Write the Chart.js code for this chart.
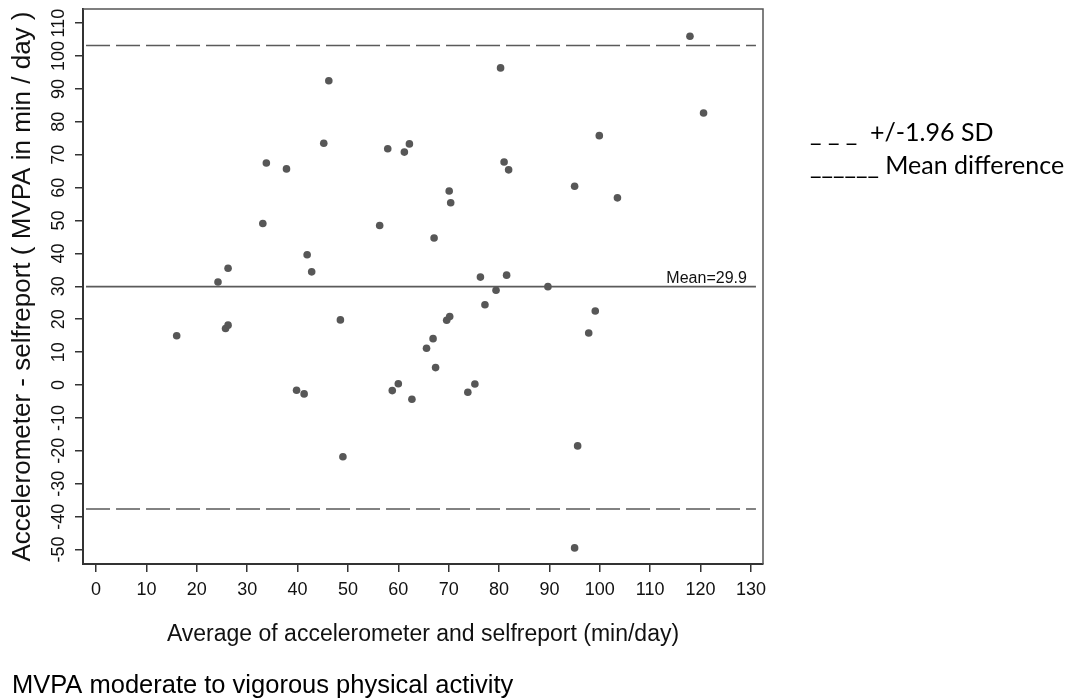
<!DOCTYPE html>
<html>
<head>
<meta charset="utf-8">
<script src="https://cdn.jsdelivr.net/npm/chart.js@4.4.0/dist/chart.umd.min.js"></script>
<style>
  html, body { margin: 0; padding: 0; background: #fff; }
  #wrap { width: 1068px; height: 698px; position: relative; }
</style>
</head>
<body>
<div id="wrap"><canvas id="bland-altman"></canvas></div>
<script>
// average of the two methods (min/day)
const avgMinutes = [16.0, 24.2, 25.7, 26.2, 26.2, 33.1, 33.8, 37.8, 39.8, 41.3,
  41.9, 42.8, 45.2, 46.2, 48.5, 49.0, 56.3, 57.9, 58.8, 60.0,
  61.2, 62.2, 62.7, 65.6, 66.9, 67.1, 67.4, 69.6, 70.1, 70.2,
  70.4, 73.8, 75.2, 76.3, 77.2, 79.4, 80.3, 81.0, 81.5, 81.9,
  89.7, 95.0, 95.0, 95.6, 97.8, 99.1, 99.9, 103.5, 117.9, 120.6];
// accelerometer - selfreport (min/day)
const diffMinutes = [15.0, 31.3, 17.2, 18.2, 35.5, 49.1, 67.5, 65.7, -1.6, -2.7,
  39.6, 34.4, 73.5, 92.5, 19.8, -21.8, 48.5, 71.8, -1.7, 0.4,
  70.8, 73.3, -4.3, 11.2, 14.1, 44.7, 5.3, 19.7, 59.0, 20.8,
  55.4, -2.2, 0.3, 32.8, 24.4, 28.8, 96.4, 67.8, 33.4, 65.4,
  29.9, 60.4, -49.5, -18.5, 15.8, 22.5, 75.8, 56.9, 106.0, 82.7];

const xTicks = [0, 10, 20, 30, 40, 50, 60, 70, 80, 90, 100, 110, 120, 130];
const yTicks = [-50, -40, -30, -20, -10, 0, 10, 20, 30, 40, 50, 60, 70, 80, 90, 100, 110];

const meanDiff = 29.9;
const upperLimit = 103.2;
const lowerLimit = -37.7;
const refLineX = [-2, 131];

const ink = '#333333';
const dotColor = '#575757';
const tickFont = { family: '"Liberation Sans Narrow", "Arial Narrow", "Liberation Sans", sans-serif', size: 18 };
const axisFont = '"Liberation Sans", Arial, sans-serif';

const refLine = (y, dash) => ({
  type: 'line',
  data: refLineX.map(x => ({ x: x, y: y })),
  borderColor: '#5a5a5a',
  borderWidth: 1.6,
  borderDash: dash,
  pointRadius: 0,
  fill: false
});

// things R draws outside the axes: box, mean label, legend, footnote
const extrasPlugin = {
  id: 'extras',
  afterDraw(chart) {
    const ctx = chart.ctx;
    const area = chart.chartArea;
    const xs = chart.scales.x, ys = chart.scales.y;
    ctx.save();
    ctx.strokeStyle = '#555';
    ctx.lineWidth = 1.5;
    ctx.beginPath();
    ctx.moveTo(area.left, area.top);
    ctx.lineTo(area.right, area.top);
    ctx.lineTo(area.right, area.bottom);
    ctx.stroke();

    ctx.fillStyle = '#111';
    ctx.font = '16px "Liberation Sans", Arial, sans-serif';
    ctx.textAlign = 'right';
    ctx.textBaseline = 'alphabetic';
    ctx.fillText('Mean=' + meanDiff, xs.getPixelForValue(129.2), ys.getPixelForValue(meanDiff) - 4);

    ctx.fillStyle = '#000';
    ctx.textAlign = 'left';
    ctx.font = '25px Lato, "Open Sans", sans-serif';
    ctx.fillText('_ _ _  +/-1.96 SD', 810, 141);
    ctx.fillText('______ Mean difference', 810, 174);

    ctx.font = '25.5px "Liberation Sans", Arial, sans-serif';
    ctx.fillText('MVPA moderate to vigorous physical activity', 12, 693);
    ctx.restore();
  }
};

new Chart(document.getElementById('bland-altman'), {
  type: 'scatter',
  data: {
    datasets: [
      {
        label: 'Difference',
        data: avgMinutes.map((x, i) => ({ x: x, y: diffMinutes[i] })),
        backgroundColor: dotColor,
        borderColor: dotColor,
        borderWidth: 0,
        pointRadius: 3.8
      },
      refLine(upperLimit, [24, 6]),
      refLine(meanDiff, []),
      refLine(lowerLimit, [24, 6])
    ]
  },
  options: {
    responsive: true,
    maintainAspectRatio: false,
    animation: false,
    layout: { padding: { top: 9, right: 305, left: 0, bottom: 0 } },
    plugins: {
      legend: { display: false },
      tooltip: { enabled: false }
    },
    scales: {
      x: {
        type: 'linear',
        min: -2.6,
        max: 132.4,
        afterBuildTicks: axis => { axis.ticks = xTicks.map(v => ({ value: v })); },
        afterFit: axis => {
          axis.height = 134;
          axis.paddingLeft = 0;
          axis.paddingRight = 0;
        },
        ticks: {
          autoSkip: false,
          minRotation: 0,
          maxRotation: 0,
          padding: 7,
          color: '#111',
          font: tickFont
        },
        grid: { drawOnChartArea: false, drawTicks: true, tickLength: 8, color: ink, lineWidth: 1.5 },
        border: { display: true, color: ink, width: 2 },
        title: {
          display: true,
          text: 'Average of accelerometer and selfreport (min/day)',
          color: '#111',
          font: { family: axisFont, size: 23 },
          padding: { top: 0, bottom: 50 }
        }
      },
      y: {
        type: 'linear',
        min: -54.4,
        max: 114.3,
        afterBuildTicks: axis => { axis.ticks = yTicks.map(v => ({ value: v })); },
        afterFit: axis => {
          axis.width = 83;
          axis.paddingTop = 0;
          axis.paddingBottom = 0;
        },
        ticks: {
          autoSkip: false,
          minRotation: 90,
          maxRotation: 90,
          crossAlign: 'center',
          padding: 1,
          color: '#111',
          font: tickFont
        },
        grid: { drawOnChartArea: false, drawTicks: true, tickLength: 8, color: ink, lineWidth: 1.5 },
        border: { display: true, color: ink, width: 2 },
        title: {
          display: true,
          text: 'Accelerometer - selfreport ( MVPA in min / day )',
          color: '#111',
          font: { family: axisFont, size: 26 },
          padding: { top: 7, bottom: 0 }
        }
      }
    }
  },
  plugins: [extrasPlugin]
});
</script>
</body>
</html>
